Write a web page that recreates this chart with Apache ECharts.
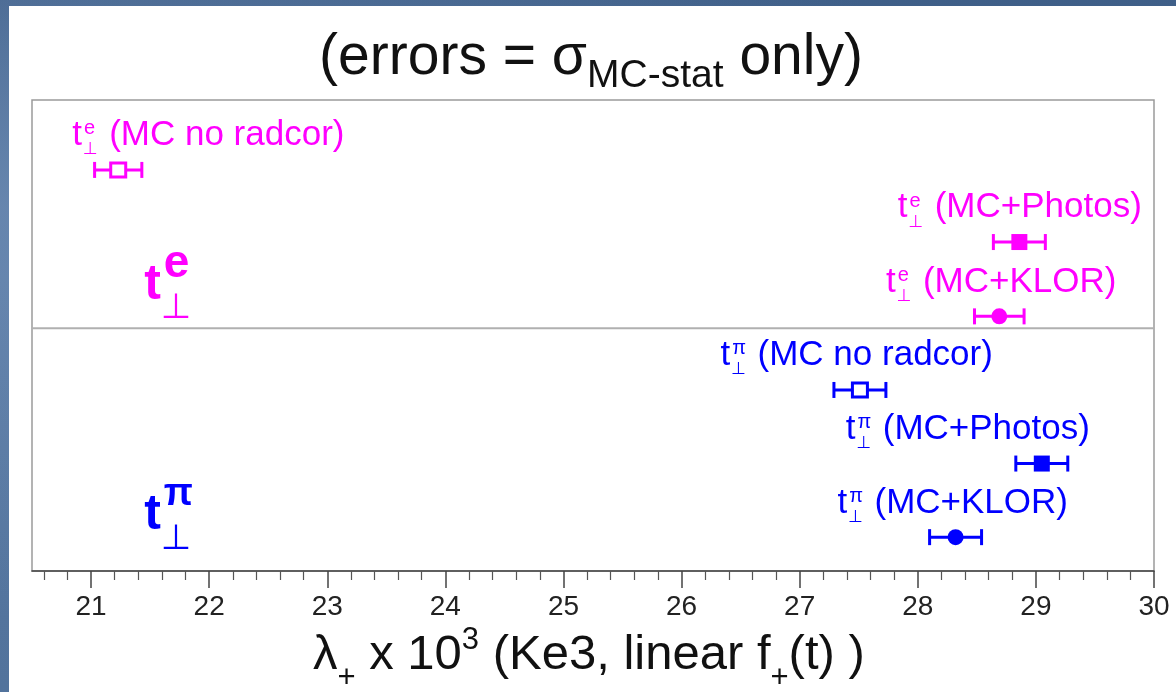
<!DOCTYPE html>
<html>
<head>
<meta charset="utf-8">
<title>lambda+ fits</title>
<script src="https://cdn.jsdelivr.net/npm/echarts@6/dist/echarts.min.js"></script>
<style>
  html, body { margin: 0; padding: 0; width: 1176px; height: 692px; overflow: hidden; }
  body {
    background:
      radial-gradient(ellipse at 0% 30%, rgba(120,150,190,0.55), rgba(0,0,0,0) 60%),
      linear-gradient(180deg, #3f5f88 0%, #5778a1 40%, #52739c 100%);
  }
  #panel { position: absolute; left: 9px; top: 6px; width: 1167px; height: 686px; background: #ffffff; }
  #chart { position: absolute; left: 0; top: 0; width: 1176px; height: 692px; }
</style>
</head>
<body>
<div id="panel"></div>
<div id="chart"></div>
<script>
// ---- data ---------------------------------------------------------------
const xMin = 20.5;
const xMax = 30;
const yMin = 0;
const yMax = 6.4;
const tickValues = [21, 22, 23, 24, 25, 26, 27, 28, 29, 30];

// one entry per measurement, top to bottom
const sampleNames = ['MC no radcor', 'MC+Photos', 'MC+KLOR', 'MC no radcor', 'MC+Photos', 'MC+KLOR'];
const particles   = ['e', 'e', 'e', 'π', 'π', 'π'];
const lambdaVals  = [21.23, 28.86, 28.69, 27.51, 29.05, 28.32];
const lambdaErrs  = [0.20, 0.22, 0.21, 0.22, 0.22, 0.22];
const rowY        = [5.45, 4.47, 3.46, 2.46, 1.46, 0.46];
const markerKinds = ['open', 'square', 'circle', 'open', 'square', 'circle'];
const labelX      = [20.84, 27.83, 27.73, 26.33, 27.39, 27.32];

// group headings and divider
const groupParticles = ['e', 'π'];
const groupLabelX = [21.45, 21.45];
const groupLabelY = [3.65, 0.52];
const separatorY = 3.3;

// ---- helpers ------------------------------------------------------------
const colorFor = { 'e': '#ff00ff', 'π': '#0000ff' };
const SANS = '"Liberation Sans", Arial, Helvetica, sans-serif';
const SYMBOL_FONT = '"DejaVu Sans", sans-serif';
const measureCtx = document.createElement('canvas').getContext('2d');
function fontStr(size, weight, family) {
  return (weight || 'normal') + ' ' + size + 'px ' + (family || SANS);
}
function textWidth(font, s) {
  measureCtx.font = font;
  return measureCtx.measureText(s).width;
}
// text element placed by its alphabetic baseline
function txt(s, x, baseline, size, color, weight, family) {
  return {
    type: 'text',
    x: x,
    y: baseline - 0.35 * size,
    style: {
      text: s,
      font: fontStr(size, weight, family),
      fill: color,
      align: 'left',
      verticalAlign: 'middle'
    }
  };
}

const minorTicks = [];
for (let v = Math.round(xMin * 5); v <= Math.round(xMax * 5); v++) {
  if (v % 5 !== 0) minorTicks.push(v / 5);
}

// ---- renderers ----------------------------------------------------------
function renderErrorBar(params, api) {
  const i = params.dataIndex;
  const x = api.value(0), y = api.value(1), e = api.value(2);
  const c = colorFor[particles[i]];
  const pl = api.coord([x - e, y]);
  const pr = api.coord([x + e, y]);
  const pc = api.coord([x, y]);
  const cap = 8;
  const lw = 3;
  const children = [
    { type: 'line', shape: { x1: pl[0], y1: pl[1], x2: pr[0], y2: pr[1] }, style: { stroke: c, lineWidth: lw } },
    { type: 'line', shape: { x1: pl[0], y1: pl[1] - cap, x2: pl[0], y2: pl[1] + cap }, style: { stroke: c, lineWidth: lw } },
    { type: 'line', shape: { x1: pr[0], y1: pr[1] - cap, x2: pr[0], y2: pr[1] + cap }, style: { stroke: c, lineWidth: lw } }
  ];
  const kind = markerKinds[i];
  if (kind === 'open') {
    children.push({ type: 'rect', shape: { x: pc[0] - 7.5, y: pc[1] - 7, width: 15, height: 14 },
      style: { fill: '#ffffff', stroke: c, lineWidth: lw } });
  } else if (kind === 'square') {
    children.push({ type: 'rect', shape: { x: pc[0] - 8, y: pc[1] - 8, width: 16, height: 16 },
      style: { fill: c } });
  } else {
    children.push({ type: 'circle', shape: { cx: pc[0], cy: pc[1], r: 8 }, style: { fill: c } });
  }
  return { type: 'group', children: children };
}

function renderSampleLabel(params, api) {
  const i = params.dataIndex;
  const p = api.coord([api.value(0), api.value(1)]);
  const c = colorFor[particles[i]];
  const fs = 35;
  const x0 = p[0];
  const base = p[1] - 22;
  const tW = textWidth(fontStr(fs), 't');
  return {
    type: 'group',
    children: [
      txt('t', x0, base, fs, c),
      txt(particles[i], x0 + tW + 2, base - 12, 20, c),
      txt('⊥', x0 + tW + 1, base + 8, 17, c, 'normal', SYMBOL_FONT),
      txt('(' + sampleNames[i] + ')', x0 + 37, base, fs, c)
    ]
  };
}

const groupSupSize = { 'e': 46, 'π': 38 };
const groupSupRaise = { 'e': 22, 'π': 25 };
function renderGroupLabel(params, api) {
  const k = params.dataIndex;
  const p = api.coord([api.value(0), api.value(1)]);
  const sym = groupParticles[k];
  const c = colorFor[sym];
  const fs = 50;
  const x0 = p[0];
  const base = p[1];
  const tW = textWidth(fontStr(fs, 'bold'), 't');
  return {
    type: 'group',
    children: [
      txt('t', x0, base, fs, c, 'bold'),
      txt(sym, x0 + tW + 3, base - groupSupRaise[sym], groupSupSize[sym], c, 'bold'),
      txt('⊥', x0 + tW, base + 19, 35, c, 'normal', SYMBOL_FONT)
    ]
  };
}

// ---- chart --------------------------------------------------------------
const chart = echarts.init(document.getElementById('chart'), null, { renderer: 'canvas' });

chart.setOption({
  animation: false,
  backgroundColor: 'transparent',
  grid: {
    left: 32, right: 22, top: 100, bottom: 121,
    show: true, borderColor: '#9a9a9a', borderWidth: 1.5, backgroundColor: 'transparent'
  },
  xAxis: [{
    type: 'value', min: xMin, max: xMax, position: 'bottom',
    splitLine: { show: false },
    axisLine: { show: true, onZero: false, lineStyle: { color: '#444', width: 1.5 } },
    axisTick: { show: true, customValues: tickValues, length: 17, lineStyle: { color: '#444', width: 1.5 } },
    axisLabel: { show: true, customValues: tickValues, fontSize: 28, color: '#222', fontFamily: SANS, margin: 22 }
  }, {
    type: 'value', min: xMin, max: xMax, position: 'bottom', gridIndex: 0,
    splitLine: { show: false },
    axisLine: { show: false, onZero: false },
    axisLabel: { show: false },
    axisTick: { show: true, customValues: minorTicks, length: 9, lineStyle: { color: '#555', width: 1.2 } }
  }],
  yAxis: { type: 'value', min: yMin, max: yMax, show: false },
  graphic: [{
    type: 'text', x: 591, y: 58,
    style: {
      text: '{a|(errors = σ}{b|MC-stat}{a| only)}',
      align: 'center', verticalAlign: 'middle',
      rich: {
        a: { fontSize: 57, fontFamily: SANS, fill: '#111' },
        b: { fontSize: 39, fontFamily: SANS, fill: '#111', padding: [36, 0, 0, 0] }
      }
    }
  }, {
    type: 'text', x: 313, y: 655,
    style: {
      text: '{a|λ}{s|+}{a| x 10}{p|3}{a| (Ke3, linear f}{s|+}{a|(t) )}',
      align: 'left', verticalAlign: 'middle',
      rich: {
        a: { fontSize: 49, fontFamily: SANS, fill: '#111' },
        s: { fontSize: 31, fontFamily: SANS, fill: '#111', padding: [46, 0, 0, 0] },
        p: { fontSize: 31, fontFamily: SANS, fill: '#111', padding: [0, 0, 30, 0] }
      }
    }
  }],
  series: [{
    type: 'line',
    silent: true,
    symbol: 'none',
    data: [[xMin, separatorY], [xMax, separatorY]],
    lineStyle: { color: '#b0b0b0', width: 2 },
    z: 1
  }, {
    type: 'custom',
    renderItem: renderErrorBar,
    data: lambdaVals.map((v, i) => [v, rowY[i], lambdaErrs[i]]),
    encode: { x: 0, y: 1 },
    z: 3
  }, {
    type: 'custom',
    renderItem: renderSampleLabel,
    data: labelX.map((v, i) => [v, rowY[i]]),
    encode: { x: 0, y: 1 },
    z: 4
  }, {
    type: 'custom',
    renderItem: renderGroupLabel,
    data: groupLabelX.map((v, k) => [v, groupLabelY[k]]),
    encode: { x: 0, y: 1 },
    z: 4
  }]
});
</script>
</body>
</html>
